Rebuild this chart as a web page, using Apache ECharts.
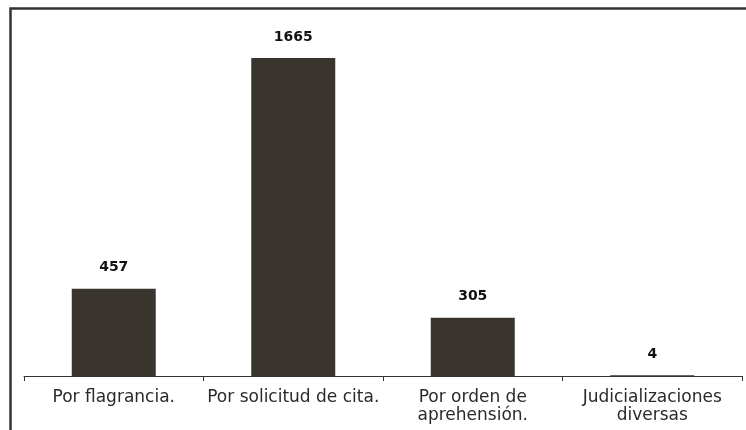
<!DOCTYPE html>
<html><head><meta charset="utf-8">
<script src="https://cdn.jsdelivr.net/npm/echarts@6/dist/echarts.min.js"></script>
<style>html,body{margin:0;padding:0;background:#fff}#c{width:746px;height:430px}</style>
</head><body><div id="c"></div>
<script>
var categories = ['Por flagrancia.', 'Por solicitud de cita.', 'Por orden de\naprehensión.', 'Judicializaciones\ndiversas'];
var values = [457, 1665, 305, 4];

var chart = echarts.init(document.getElementById('c'), null, {renderer: 'canvas'});
chart.setOption({
  animation: false,
  backgroundColor: '#fff',
  graphic: [{
    type: 'rect', left: 8, top: 6, shape: {width: 760, height: 440},
    style: {fill: 'none', stroke: '#333', lineWidth: 2.5}
  }],
  grid: {left: 24, right: 4, top: 58, bottom: 54},
  xAxis: {
    type: 'category', data: categories,
    axisLine: {lineStyle: {color: '#333', width: 1}},
    axisTick: {show: true, length: 5, lineStyle: {color: '#333'}},
    axisLabel: {color: '#2a2a2a', fontFamily: 'DejaVu Sans', fontSize: 17, lineHeight: 18, margin: 13, interval: 0}
  },
  yAxis: {type: 'value', min: 0, max: 1665, show: false, splitLine: {show: false}},
  series: [{
    type: 'bar', data: values, barWidth: 84,
    itemStyle: {color: '#3a342e'},
    label: {show: true, position: 'top', distance: 14, color: '#111', fontWeight: 'bold', fontFamily: 'DejaVu Sans', fontSize: 14}
  }]
});
</script></body></html>
